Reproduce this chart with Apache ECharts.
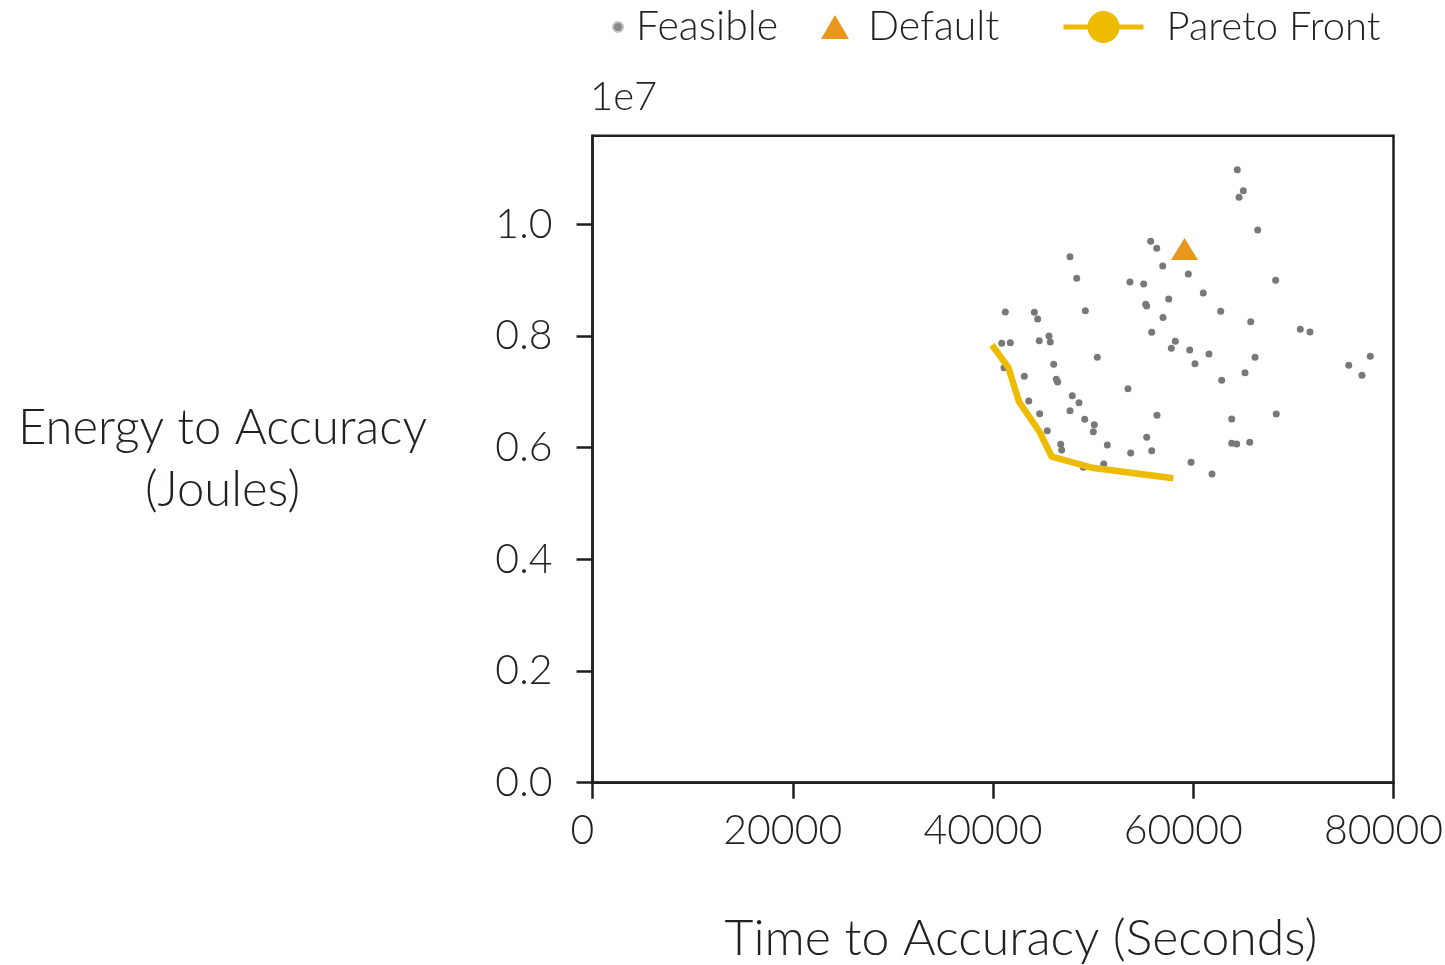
<!DOCTYPE html>
<html>
<head>
<meta charset="utf-8">
<script src="https://cdn.jsdelivr.net/npm/echarts@6/dist/echarts.min.js"></script>
<style>
html,body{margin:0;padding:0;background:#fff;}
#chart{width:1445px;height:965px;}
</style>
</head>
<body>
<div id="chart"></div>
<script>
// Values in units of 1e7 Joules (energy) and seconds (time)
const feasibleTime = [55750,56350,47690,56950,59510,48360,53680,55050,57550,55250,55350,41230,44130,44460,49220,56980,55850,45590,40870,41730,44620,45720,58210,57810,59650,50420,60170,41100,46060,43130,46320,46460,53480,47920,48590,43570,47690,44660,56380,49160,50120,50020,45420,55350,46760,46860,51420,53750,55850,59780,51060,49020,64400,65000,64570,66440,68230,61000,62740,65740,70690,71660,61570,66170,65170,62840,75530,77680,76850,63840,68290,63840,64340,65640,61870];
const feasibleEnergy = [0.9696,0.957,0.942,0.9253,0.911,0.9033,0.8967,0.8931,0.8662,0.8567,0.8537,0.843,0.8424,0.8304,0.8453,0.8331,0.8066,0.800,0.7869,0.788,0.7915,0.7892,0.7905,0.7779,0.7749,0.7618,0.7504,0.7432,0.7493,0.7278,0.7224,0.7176,0.7056,0.693,0.6805,0.6836,0.6662,0.6608,0.658,0.6508,0.6411,0.6286,0.6304,0.6186,0.606,0.5958,0.6048,0.5904,0.5946,0.5738,0.5707,0.5648,1.0978,1.0602,1.0484,0.9898,0.8997,0.877,0.8442,0.8256,0.812,0.8071,0.7677,0.7618,0.7342,0.7206,0.7475,0.7636,0.7296,0.6513,0.6603,0.6078,0.6066,0.6096,0.5528];
const defaultTime = [59130];
const defaultEnergy = [0.9558];
const paretoTime = [39900,41530,42600,44630,45870,49860,58010];
const paretoEnergy = [0.7838,0.7439,0.6823,0.6289,0.5838,0.5641,0.5451];
const xTicks = [0,20000,40000,60000,80000];
const yTicks = [0,0.2,0.4,0.6,0.8,1.0];

const FONT = 'Lato';
const TXT = '#231f20';
const zip = (a,b) => a.map((v,i)=>[v,b[i]]);

const chart = echarts.init(document.getElementById('chart'), null, {renderer:'canvas'});
chart.setOption({
  backgroundColor:'#ffffff',
  animation:false,
  textStyle:{fontFamily:FONT, fontWeight:300, color:TXT},
  title:{text:'1e7', left:585, top:72, textStyle:{fontFamily:FONT, fontWeight:300, fontSize:40, color:TXT}},
  legend:[
    {data:[{name:'Feasible', icon:'circle', itemStyle:{color:'#8a8a8a', borderColor:'#c4c4c4', borderWidth:2}}],
     left:607, top:0, itemWidth:10, itemHeight:10,
     textStyle:{fontFamily:FONT, fontWeight:300, fontSize:41, color:TXT, lineHeight:44, padding:[0,0,0,8]}},
    {data:[{name:'Default', icon:'triangle', itemStyle:{color:'#E8961E', opacity:1}}],
     left:816, top:0, itemWidth:28, itemHeight:24,
     textStyle:{fontFamily:FONT, fontWeight:300, fontSize:41, color:TXT, lineHeight:44, padding:[0,0,0,14]}},
    {data:[{name:'Pareto Front'}],
     left:1056, top:0, itemWidth:80, itemHeight:40, lineStyle:{width:5},
     textStyle:{fontFamily:FONT, fontWeight:300, fontSize:40, color:TXT, lineHeight:44, padding:[0,0,0,18]}}
  ],
  grid:{left:592.5, right:51.5, top:135.7, bottom:182.3, show:true, borderColor:'#231f20', borderWidth:2.5,
        backgroundColor:'transparent', outerBoundsMode:'none', containLabel:false},
  xAxis:{
    type:'value', min:0, max:80000, interval:20000,
    name:'Time to Accuracy (Seconds)', nameLocation:'middle', nameGap:156,
    nameTextStyle:{fontFamily:FONT, fontWeight:300, fontSize:50, color:TXT, verticalAlign:'middle', padding:[0,0,0,56]},
    axisLine:{show:true, lineStyle:{color:'#231f20', width:2.5}},
    axisTick:{show:true, inside:false, length:16, lineStyle:{color:'#231f20', width:2.5}, customValues:xTicks},
    axisLabel:{fontFamily:FONT, fontWeight:300, fontSize:41, color:TXT, margin:28, customValues:xTicks, padding:[0,20,0,0],
      formatter:v=>String(v)},
    splitLine:{show:false}
  },
  yAxis:{
    type:'value', min:0, max:1.1587, interval:0.2,
    name:'Energy to Accuracy\n(Joules)', nameLocation:'middle', nameRotate:0, nameGap:370,
    nameTextStyle:{fontFamily:FONT, fontWeight:300, fontSize:49, color:TXT, align:'center', verticalAlign:'middle', lineHeight:62, padding:[6,0,0,0]},
    axisLine:{show:true, lineStyle:{color:'#231f20', width:2.5}},
    axisTick:{show:true, inside:false, length:16, lineStyle:{color:'#231f20', width:2.5}, customValues:yTicks},
    axisLabel:{fontFamily:FONT, fontWeight:300, fontSize:41, color:TXT, margin:40, customValues:yTicks,
      formatter:v=>v.toFixed(1)},
    splitLine:{show:false}
  },
  series:[
    {name:'Feasible', type:'scatter', data:zip(feasibleTime,feasibleEnergy), symbol:'circle', symbolSize:7,
     itemStyle:{color:'#787878', opacity:1}, z:2},
    {name:'Default', type:'scatter', data:zip(defaultTime,defaultEnergy), symbol:'triangle', symbolSize:[27,22],
     itemStyle:{color:'#E8961E', opacity:1}, z:3},
    {name:'Pareto Front', type:'line', data:zip(paretoTime,paretoEnergy), symbol:'circle', showSymbol:false,
     lineStyle:{color:'#EDBB00', width:6.5}, itemStyle:{color:'#EDBB00'}, z:4}
  ]
});
</script>
</body>
</html>
